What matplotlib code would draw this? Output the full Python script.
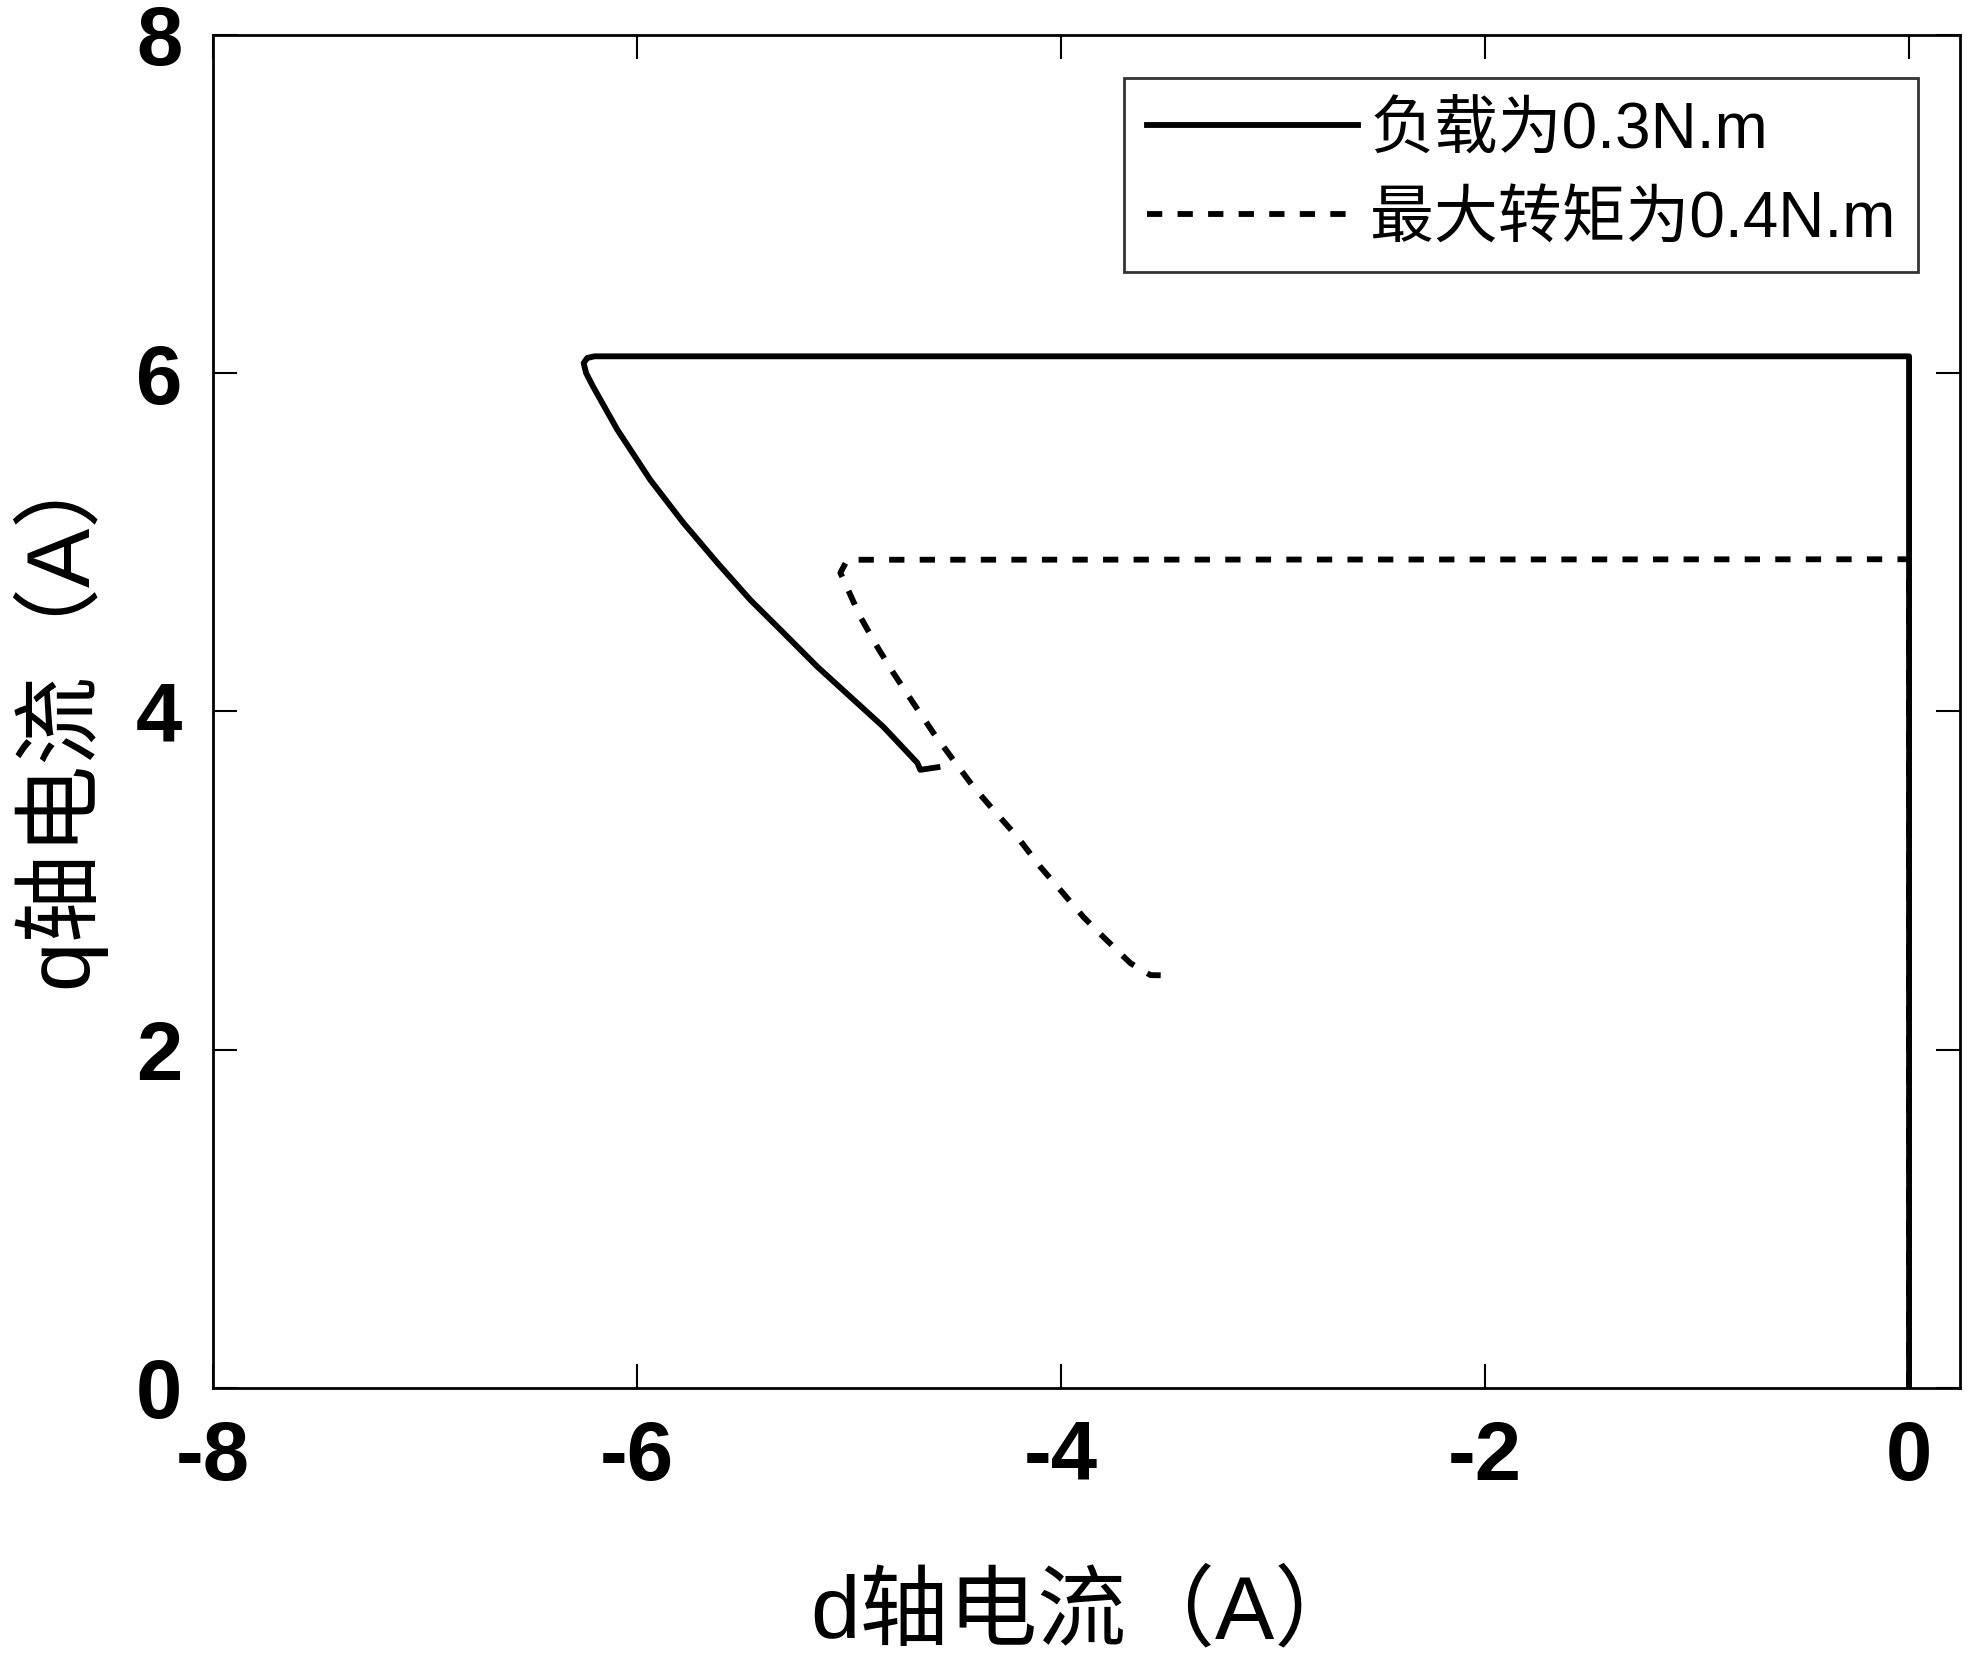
import matplotlib.pyplot as plt
import matplotlib

matplotlib.rcParams['font.family'] = ['Liberation Sans', 'Noto Sans CJK SC', 'DejaVu Sans']
matplotlib.rcParams['axes.unicode_minus'] = False
matplotlib.rcParams['lines.scale_dashes'] = False

# 负载为0.3N.m (实线)
id_load = [0.0, 0.0, -6.20, -6.235, -6.252, -6.24, -6.207, -6.093, -5.938, -5.782,
           -5.622, -5.466, -5.31, -5.15, -4.994, -4.838, -4.678, -4.664, -4.583]
iq_load = [0.0, 6.10, 6.10, 6.09, 6.06, 6.0, 5.92, 5.666, 5.37, 5.116,
           4.88, 4.66, 4.466, 4.265, 4.087, 3.909, 3.696, 3.655, 3.67]

# 最大转矩为0.4N.m (虚线)
id_max = [0.0, 0.0, -5.008, -5.041, -4.947, -4.866, -4.791, -4.697, -4.602, -4.508,
          -4.413, -4.319, -4.206, -4.097, -4.003, -3.894, -3.8, -3.673, -3.578, -3.53]
iq_max = [0.0, 4.90, 4.897, 4.82, 4.56, 4.38, 4.228, 4.05, 3.873, 3.713,
          3.554, 3.418, 3.258, 3.08, 2.944, 2.784, 2.666, 2.512, 2.441, 2.44]

x_ticks = [-8, -6, -4, -2, 0]
y_ticks = [0, 2, 4, 6, 8]

fig = plt.figure(figsize=(19.69, 16.66), dpi=100)
ax = fig.add_axes([0.1082, 0.1669, 0.8872, 0.8121])

ax.plot(id_max, iq_max, color='black', linewidth=4.2, dashes=(11, 11),
        label='最大转矩为0.4N.m')
ax.plot(id_load, iq_load, color='black', linewidth=4.2, label='负载为0.3N.m')

ax.set_xlim(-8, 0.24)
ax.set_ylim(0, 8)
ax.set_xticks(x_ticks)
ax.set_yticks(y_ticks)
ax.tick_params(direction='in', length=17, width=1.5, top=True, right=True,
               labelsize=60, pad=22)
for lab in ax.get_xticklabels() + ax.get_yticklabels():
    lab.set_fontweight('bold')
for sp in ax.spines.values():
    sp.set_linewidth(2)

ax.set_xlabel('d轴电流（A）', fontsize=64, labelpad=55)
ax.set_ylabel('q轴电流（A）', fontsize=64, labelpad=22)

handles, labels = ax.get_legend_handles_labels()
leg = ax.legend(handles[::-1], labels[::-1], loc='upper right',
                bbox_to_anchor=(0.976, 0.968), fontsize=46, frameon=True,
                fancybox=False, edgecolor='black', handlelength=3.3,
                handletextpad=0.2, labelspacing=0.45, borderpad=0.35,
                borderaxespad=0.0)
leg.get_frame().set_linewidth(2)

fig.savefig('out.png', dpi=100)
